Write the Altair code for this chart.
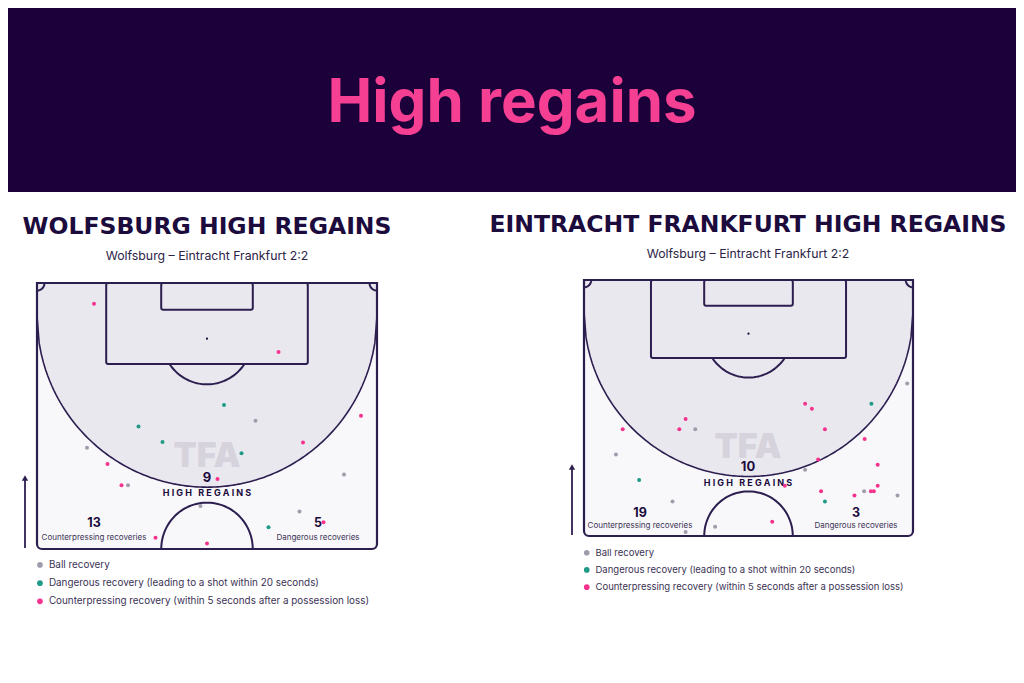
import numpy as np
import pandas as pd
import altair as alt

# ---------------- data ----------------
TYPE_LABELS = [
    "Ball recovery",
    "Dangerous recovery (leading to a shot within 20 seconds)",
    "Counterpressing recovery (within 5 seconds after a possession loss)",
]
TYPE_COLORS = ["#a09cab", "#1f9a86", "#f5338e"]
CODE = {"B": TYPE_LABELS[0], "D": TYPE_LABELS[1], "C": TYPE_LABELS[2]}

# Wolfsburg high regains (x across pitch 0-68 m, y = distance from goal line, m)
WOB_X = [11.4, 48.3, 37.4, 43.7, 64.8, 20.3, 25.1, 10.0, 53.2, 40.9, 14.1,
         61.4, 36.1, 16.9, 18.2, 32.7, 52.5, 57.3, 46.3, 23.7, 34.0]
WOB_Y = [4.1, 13.6, 24.1, 27.2, 26.2, 28.3, 31.4, 32.5, 31.5, 33.6, 35.7,
         37.8, 38.7, 39.9, 39.9, 44.0, 45.1, 47.2, 48.2, 50.3, 51.4]
WOB_T = ["C", "C", "D", "B", "C", "D", "D", "B", "C", "D", "C",
         "B", "C", "C", "B", "B", "B", "C", "D", "C", "C"]

# Eintracht Frankfurt high regains
SGE_X = [66.8, 45.7, 59.4, 47.1, 21.0, 8.0, 19.7, 23.0, 49.8, 58.0, 6.6,
         48.4, 60.7, 45.7, 11.4, 41.5, 60.7, 49.0, 57.9, 59.3, 59.9, 55.9,
         64.8, 18.3, 49.8, 38.9, 27.1, 21.0]
SGE_Y = [21.2, 25.4, 25.4, 26.4, 28.5, 30.6, 30.6, 30.6, 30.6, 32.6, 35.8,
         36.8, 37.9, 38.9, 41.0, 42.2, 42.2, 43.3, 43.3, 43.3, 43.3, 44.2,
         44.2, 45.4, 45.4, 49.6, 50.6, 51.7]
SGE_T = ["B", "C", "D", "C", "C", "C", "C", "B", "C", "C", "B",
         "C", "C", "B", "D", "C", "C", "C", "B", "C", "C", "C",
         "B", "B", "D", "C", "B", "B"]

MAIN_TITLE = "High regains"
SUBTITLE = "Wolfsburg \u2013 Eintracht Frankfurt 2:2"
PANELS = [
    dict(title="WOLFSBURG HIGH REGAINS", total="9", counter="13", danger="5"),
    dict(title="EINTRACHT FRANKFURT HIGH REGAINS", total="10", counter="19", danger="3"),
]

# ---------------- style ----------------
W, H = 1008, 660
BANNER = "#1b0039"
PINK = "#f43f93"
DARK = "#1c0b3d"
LINE = "#2d1e50"
GREY_FILL = "#eae8ef"
PITCH_FILL = "#f8f8fa"
FONT = "Inter"

one = pd.DataFrame({"a": [0]})


def text(t, x, y, size, weight="normal", color=DARK, align="center",
         baseline="alphabetic", font=FONT):
    return alt.Chart(one).mark_text(
        text=t, fontSize=size, fontWeight=weight, color=color, align=align,
        baseline=baseline, font=font
    ).encode(x=alt.value(x), y=alt.value(y))


def pitch(xr, yr, xs, ys, ts, legend_xy, legend_pad, legend_fs):
    X = alt.Scale(domain=[0, 68], range=xr, nice=False, zero=False)
    Y = alt.Scale(domain=[0, 52.5], range=yr, nice=False, zero=False)

    def ex(f):
        return alt.X(f + ":Q", scale=X, axis=None)

    def ey(f):
        return alt.Y(f + ":Q", scale=Y, axis=None)

    layers = []
    full = pd.DataFrame({"x": [0], "x2": [68], "y": [0], "y2": [52.5]})
    layers.append(alt.Chart(full).mark_rect(
        fill=PITCH_FILL, cornerRadiusBottomLeft=5, cornerRadiusBottomRight=5
    ).encode(x=ex("x"), x2="x2", y=ey("y"), y2="y2"))

    # shaded zone
    gx = np.linspace(0, 68, 161)
    gy = 6.5 + 33.8 * np.sqrt(np.clip(1 - ((gx - 34) / 34) ** 2, 0, 1))
    zone = pd.DataFrame({"x": gx, "y": gy, "y0": 0.0})
    layers.append(alt.Chart(zone).mark_area(color=GREY_FILL).encode(
        x=ex("x"), y=ey("y"), y2="y0"))
    layers.append(alt.Chart(zone).mark_line(color=LINE, strokeWidth=1.6).encode(
        x=ex("x"), y=ey("y")))

    # boxes
    boxes = pd.DataFrame({"x": [13.84, 24.84], "x2": [54.16, 43.16],
                          "y": [0, 0], "y2": [16.0, 5.3]})
    layers.append(alt.Chart(boxes).mark_rect(
        fillOpacity=0, stroke=LINE, strokeWidth=2, cornerRadius=2
    ).encode(x=ex("x"), x2="x2", y=ey("y"), y2="y2"))

    # arcs: penalty arc, centre circle, corner arcs
    rows = []
    r = 9.0
    lim = np.arccos((16.0 - 11.0) / r)
    for i, a in enumerate(np.linspace(-lim, lim, 40)):
        rows.append(("pen", i, 34 + r * np.sin(a), 11 + r * np.cos(a)))
    for i, a in enumerate(np.linspace(0, np.pi, 60)):
        rows.append(("cc", i, 34 + 9.15 * np.cos(a), 52.5 - 9.15 * np.sin(a)))
    for i, a in enumerate(np.linspace(0, np.pi / 2, 12)):
        rows.append(("cl", i, 1.5 * np.cos(a), 1.5 * np.sin(a)))
        rows.append(("cr", i, 68 - 1.5 * np.cos(a), 1.5 * np.sin(a)))
    arcs = pd.DataFrame(rows, columns=["seg", "i", "x", "y"])
    layers.append(alt.Chart(arcs).mark_line(color=LINE, strokeWidth=2).encode(
        x=ex("x"), y=ey("y"), detail="seg:N", order="i:Q"))

    # outline
    layers.append(alt.Chart(full).mark_rect(
        fillOpacity=0, stroke=LINE, strokeWidth=2.2,
        cornerRadiusBottomLeft=5, cornerRadiusBottomRight=5
    ).encode(x=ex("x"), x2="x2", y=ey("y"), y2="y2"))

    spot = pd.DataFrame({"x": [34], "y": [11]})
    layers.append(alt.Chart(spot).mark_circle(size=5, color=DARK, opacity=1).encode(
        x=ex("x"), y=ey("y")))

    pts = pd.DataFrame({"x": xs, "y": ys, "type": [CODE[t] for t in ts]})
    layers.append(alt.Chart(pts).mark_circle(size=16, opacity=1).encode(
        x=ex("x"), y=ey("y"),
        color=alt.Color("type:N",
                        scale=alt.Scale(domain=TYPE_LABELS, range=TYPE_COLORS),
                        legend=alt.Legend(
                            orient="none", legendX=legend_xy[0], legendY=legend_xy[1],
                            title=None, labelFont=FONT, labelFontSize=legend_fs,
                            labelColor="#3b3355", symbolType="circle", symbolSize=32,
                            symbolStrokeWidth=0, rowPadding=legend_pad,
                            labelLimit=400, symbolOffset=0))))
    return layers


layers = []
# banner
layers.append(alt.Chart(one).mark_rect(color=BANNER).encode(
    x=alt.value(0), x2=alt.value(W), y=alt.value(0), y2=alt.value(184)))
layers.append(text(MAIN_TITLE, 504, 114, 60, weight="bold", color=PINK))

panel_geo = [
    dict(cx=199, xr=[29, 369], yr=[275, 541], title_y=226, sub_y=252,
         tfa_y=459, tot_y=474, hr_y=488, cnt_x=86, dng_x=310, num_y=519, lab_y=532,
         arrow_x=17, arrow_y=[467, 540], legend=(27, 552), pad=7.2, lfs=9.9,
         xs=WOB_X, ys=WOB_Y, ts=WOB_T),
    dict(cx=740, xr=[576, 905], yr=[272, 528], title_y=224, sub_y=250,
         tfa_y=450, tot_y=463, hr_y=478, cnt_x=632, dng_x=848, num_y=509, lab_y=520,
         arrow_x=564, arrow_y=[456, 527], legend=(574, 540), pad=6.2, lfs=9.5,
         xs=SGE_X, ys=SGE_Y, ts=SGE_T),
]

for p, g in zip(PANELS, panel_geo):
    pl = pitch(g["xr"], g["yr"], g["xs"], g["ys"], g["ts"], g["legend"], g["pad"], g["lfs"])
    layers.extend(pl[:-1])
    layers.append(text("TFA", g["cx"], g["tfa_y"], 34, weight=900, color="#d6d3dc"))
    layers.append(text(p["total"], g["cx"], g["tot_y"], 13, weight="bold"))
    layers.append(text("H I G H\u00a0\u00a0 R E G A I N S", g["cx"], g["hr_y"], 9,
                       weight="bold"))
    layers.append(text(p["counter"], g["cnt_x"], g["num_y"], 12.5, weight="bold"))
    layers.append(text("Counterpressing recoveries", g["cnt_x"], g["lab_y"], 8,
                       color="#3b3355"))
    layers.append(text(p["danger"], g["dng_x"], g["num_y"], 12.5, weight="bold"))
    layers.append(text("Dangerous recoveries", g["dng_x"], g["lab_y"], 8,
                       color="#3b3355"))
    layers.append(pl[-1])
    layers.append(text(p["title"], g["cx"], g["title_y"], 23.5, weight="bold",
                       font="DejaVu Sans"))
    layers.append(text(SUBTITLE, g["cx"], g["sub_y"], 12.3, color="#2c2447"))
    layers.append(alt.Chart(one).mark_rule(color=LINE, strokeWidth=1.8).encode(
        x=alt.value(g["arrow_x"]), y=alt.value(g["arrow_y"][0] + 4),
        y2=alt.value(g["arrow_y"][1])))
    layers.append(alt.Chart(one).mark_point(
        shape="triangle-up", filled=True, size=40, color=LINE, opacity=1
    ).encode(x=alt.value(g["arrow_x"]), y=alt.value(g["arrow_y"][0] + 3)))

chart = alt.layer(*layers).resolve_scale(
    x="independent", y="independent", color="independent"
).properties(
    width=W, height=H, autosize=alt.AutoSizeParams(type="none"), padding=0
).configure(background="white").configure_view(stroke=None)

chart.save("out.html", embed_options={"renderer": "svg", "actions": False})
